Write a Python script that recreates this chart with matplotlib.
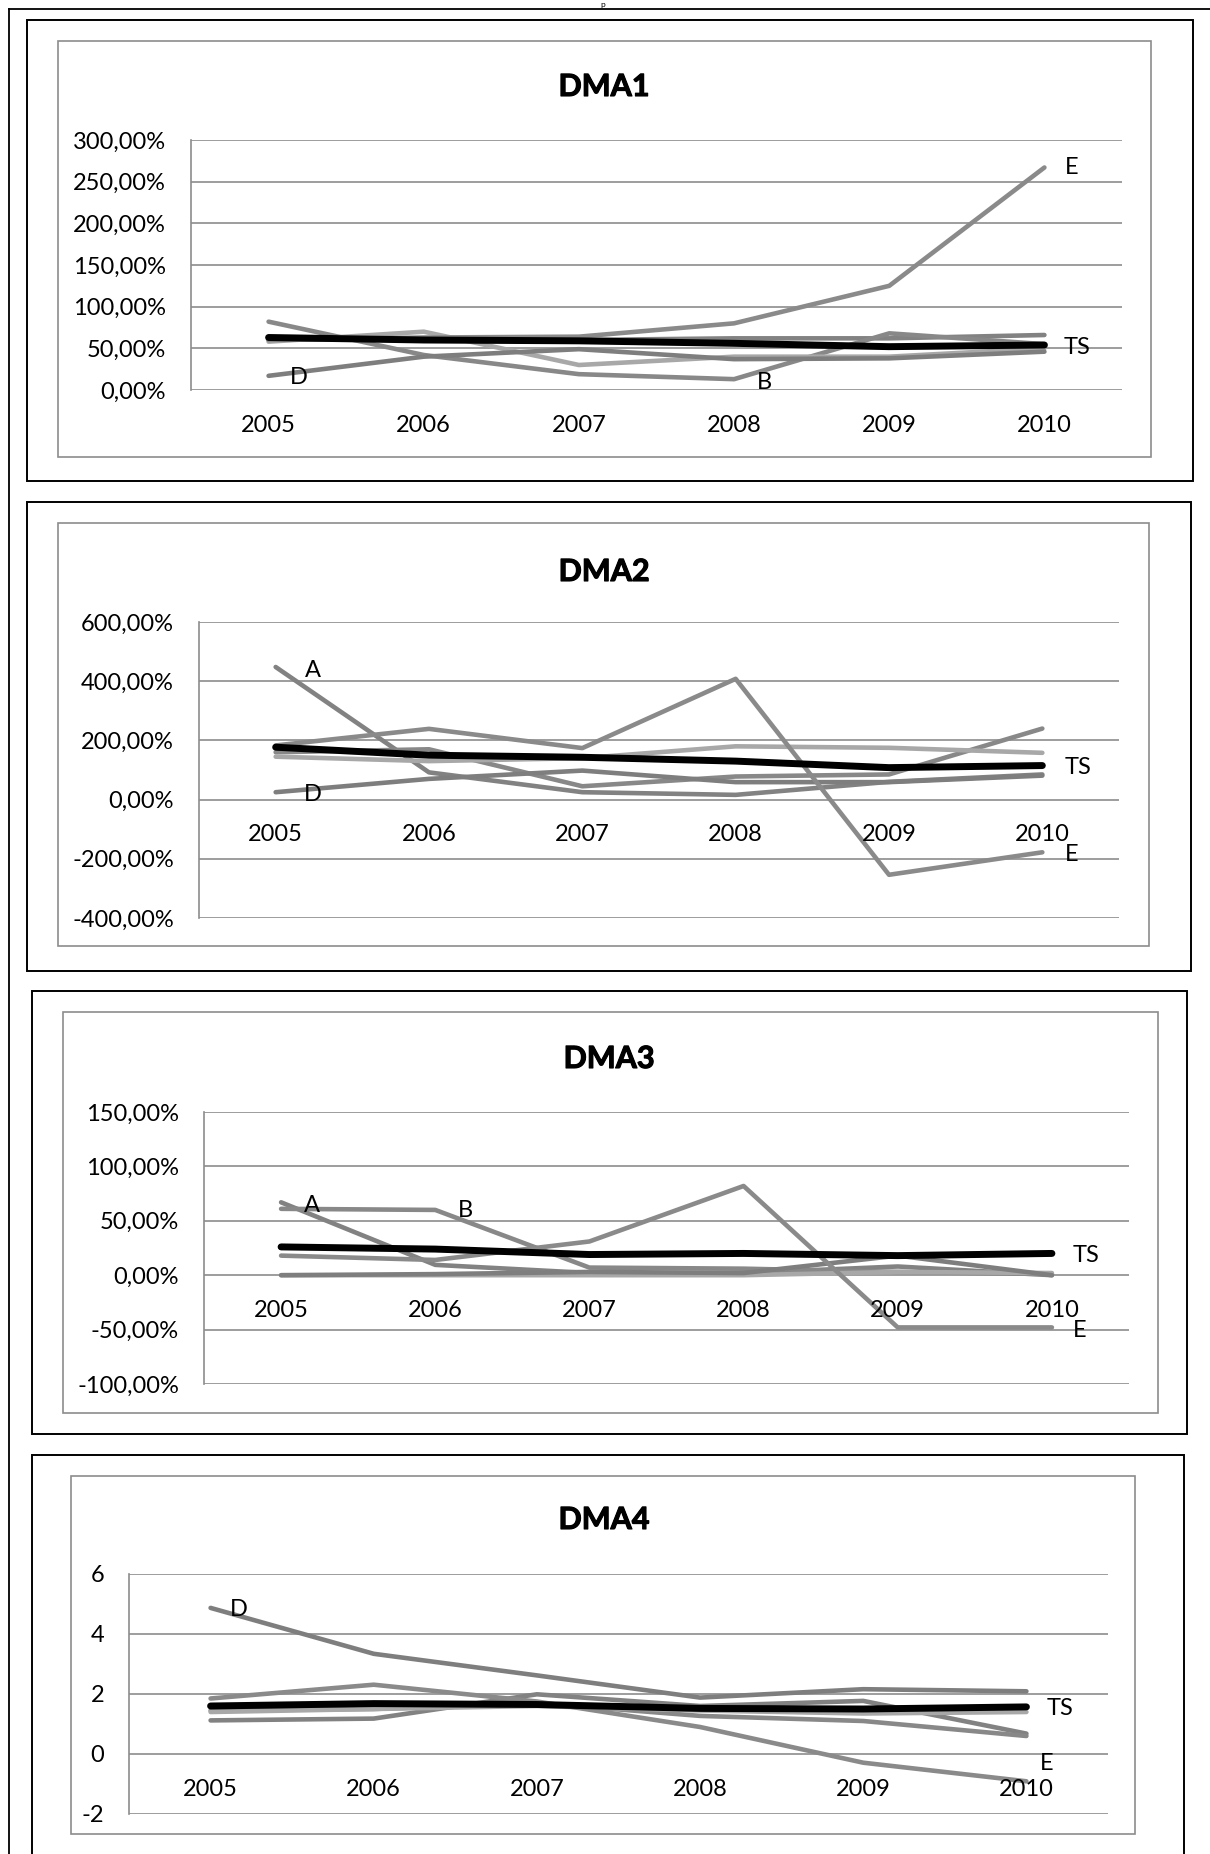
import matplotlib
matplotlib.use("Agg")
import matplotlib.pyplot as plt
import matplotlib.patheffects as pe
from matplotlib.patches import Rectangle
from matplotlib.lines import Line2D

plt.rcParams['font.family'] = ['Lato', 'DejaVu Sans']

W, H = 1210, 1854
DPI = 100
PT = 72.0 / DPI  # points per pixel

years = ['2005', '2006', '2007', '2008', '2009', '2010']
series_names = ['A', 'B', 'C', 'D', 'E']

# DMA1 (percent)
dma1_A = [60, 62, 60, 62, 62, 66]
dma1_B = [82, 42, 19, 13, 68, 55]
dma1_C = [58, 70, 30, 40, 40, 50]
dma1_D = [17, 40, 49, 37, 38, 46]
dma1_E = [60, 63, 64, 80, 125, 267]
dma1_TS = [63, 60, 59, 56, 52, 54]
dma1_ticks = [0, 50, 100, 150, 200, 250, 300]
dma1_ticklabels = ['0,00%', '50,00%', '100,00%', '150,00%', '200,00%', '250,00%', '300,00%']

# DMA2 (percent)
dma2_A = [448, 92, 25, 16, 60, 85]
dma2_B = [160, 170, 45, 78, 85, 240]
dma2_C = [145, 130, 140, 180, 175, 158]
dma2_D = [25, 70, 98, 59, 59, 81]
dma2_E = [183, 239, 174, 408, -254, -178]
dma2_TS = [177, 150, 143, 130, 108, 115]
dma2_ticks = [-400, -200, 0, 200, 400, 600]
dma2_ticklabels = ['-400,00%', '-200,00%', '0,00%', '200,00%', '400,00%', '600,00%']

# DMA3 (percent)
dma3_A = [67, 9.5, 2, 2, 8, 0]
dma3_B = [61, 60, 7, 6, 3, 1]
dma3_C = [0, 0, 0, 0, 3, 2]
dma3_D = [0, 1, 3, 2, 18, 0]
dma3_E = [18, 14, 31, 82, -48, -48]
dma3_TS = [26, 24, 19, 20, 18, 20]
dma3_ticks = [-100, -50, 0, 50, 100, 150]
dma3_ticklabels = ['-100,00%', '-50,00%', '0,00%', '50,00%', '100,00%', '150,00%']

# DMA4
dma4_A = [1.12, 1.18, 1.99, 1.6, 1.77, 0.68]
dma4_B = [1.45, 1.5, 1.7, 1.27, 1.1, 0.6]
dma4_C = [1.4, 1.5, 1.6, 1.45, 1.35, 1.4]
dma4_D = [4.87, 3.34, 2.62, 1.88, 2.16, 2.09]
dma4_E = [1.85, 2.31, 1.75, 0.9, -0.29, -0.91]
dma4_TS = [1.6, 1.68, 1.65, 1.52, 1.5, 1.57]
dma4_ticks = [-2, 0, 2, 4, 6]
dma4_ticklabels = ['-2', '0', '2', '4', '6']

gray_cols = ['#828282', '#888888', '#a8a8a8', '#7e7e7e', '#8a8a8a']

# layout in pixels: outer box, inner box, plot area (l, t, r, b), title centre,
# data labels: (series, year index, dx px, dy px)
panels = [
    dict(title='DMA1', series=[dma1_A, dma1_B, dma1_C, dma1_D, dma1_E], ts=dma1_TS,
         ticks=dma1_ticks, ticklabels=dma1_ticklabels,
         outer=(27, 20, 1193, 481), inner=(58, 41, 1151, 457), plot=(191, 140, 1122, 390),
         tpos=(604, 87),
         labels=[('D', 0, 30, 2), ('B', 3, 30, 3), ('E', 5, 27, 0), ('TS', 5, 33, 3)]),
    dict(title='DMA2', series=[dma2_A, dma2_B, dma2_C, dma2_D, dma2_E], ts=dma2_TS,
         ticks=dma2_ticks, ticklabels=dma2_ticklabels,
         outer=(27, 502, 1191, 971), inner=(58, 523, 1149, 946), plot=(199, 622, 1119, 918),
         tpos=(604, 572),
         labels=[('A', 0, 37, 4), ('D', 0, 37, 2), ('E', 5, 29, 2), ('TS', 5, 36, 2)]),
    dict(title='DMA3', series=[dma3_A, dma3_B, dma3_C, dma3_D, dma3_E], ts=dma3_TS,
         ticks=dma3_ticks, ticklabels=dma3_ticklabels,
         outer=(32, 991, 1187, 1434), inner=(63, 1012, 1158, 1413), plot=(204, 1112, 1129, 1384),
         tpos=(609, 1059),
         labels=[('A', 0, 31, 3), ('B', 1, 30, 1), ('E', 5, 28, 3), ('TS', 5, 34, 2)]),
    dict(title='DMA4', series=[dma4_A, dma4_B, dma4_C, dma4_D, dma4_E], ts=dma4_TS,
         ticks=dma4_ticks, ticklabels=dma4_ticklabels,
         outer=(32, 1455, 1184, 1880), inner=(71, 1476, 1135, 1834), plot=(129, 1574, 1108, 1814),
         tpos=(604, 1520),
         labels=[('D', 0, 28, 2), ('E', 5, 20, -18), ('TS', 5, 34, 2)]),
]


def fx(x):
    return x / W


def fy(y):
    return 1 - y / H


fig = plt.figure(figsize=(W / DPI, H / DPI), dpi=DPI)


def box(r, color, lw):
    x0, y0, x1, y1 = r
    fig.add_artist(Rectangle((fx(x0), fy(y1)), (x1 - x0) / W, (y1 - y0) / H,
                             transform=fig.transFigure, fill=False, ec=color, lw=lw))


# page border
fig.add_artist(Line2D([fx(9), fx(9)], [fy(9), fy(H + 5)], transform=fig.transFigure, color='black', lw=1.3))
fig.add_artist(Line2D([fx(9), fx(W + 5)], [fy(9), fy(9)], transform=fig.transFigure, color='black', lw=1.3))
fig.text(fx(603), fy(0.5), 'p', ha='center', va='top', fontsize=6)

for p in panels:
    box(p['outer'], 'black', 1.4)
    box(p['inner'], '#8c8c8c', 1.2)
    l, t, r, b = p['plot']
    ax = fig.add_axes([fx(l), fy(b), (r - l) / W, (b - t) / H])
    ax.set_xlim(-0.5, 5.5)
    ax.set_ylim(p['ticks'][0], p['ticks'][-1])
    ax.set_yticks(p['ticks'])
    ax.set_yticklabels(p['ticklabels'])
    ax.set_xticks([])
    ax.tick_params(axis='y', length=0, pad=18, labelsize=17)
    for s in ['top', 'right', 'bottom']:
        ax.spines[s].set_visible(False)
    ax.spines['left'].set_color('#8c8c8c')
    ax.spines['left'].set_linewidth(1.2)
    ax.yaxis.grid(True, color='#8c8c8c', lw=1.2)
    ax.set_axisbelow(True)
    ax.patch.set_alpha(0)

    xs = range(len(years))
    for vals, c in zip(p['series'], gray_cols):
        ax.plot(xs, vals, color=c, lw=3.3, solid_capstyle='round', solid_joinstyle='round', clip_on=False)
    ax.plot(xs, p['ts'], color='black', lw=5.0, solid_capstyle='round', solid_joinstyle='round', clip_on=False)

    for i, yr in enumerate(years):
        ax.annotate(yr, (i, 0), xytext=(0, -35 * PT), textcoords='offset points',
                    ha='center', va='center', fontsize=17)

    for name, i, dx, dy in p['labels']:
        if name == 'TS':
            v = p['ts'][i]
        else:
            v = p['series'][series_names.index(name)][i]
        ax.annotate(name, (i, v), xytext=(dx * PT, -dy * PT), textcoords='offset points',
                    ha='center', va='center', fontsize=17)

    fig.text(fx(p['tpos'][0]), fy(p['tpos'][1]), p['title'], ha='center', va='center',
             fontsize=22, fontweight='bold',
             path_effects=[pe.withStroke(linewidth=0.8, foreground='black')])

fig.savefig('out.png', dpi=DPI)
